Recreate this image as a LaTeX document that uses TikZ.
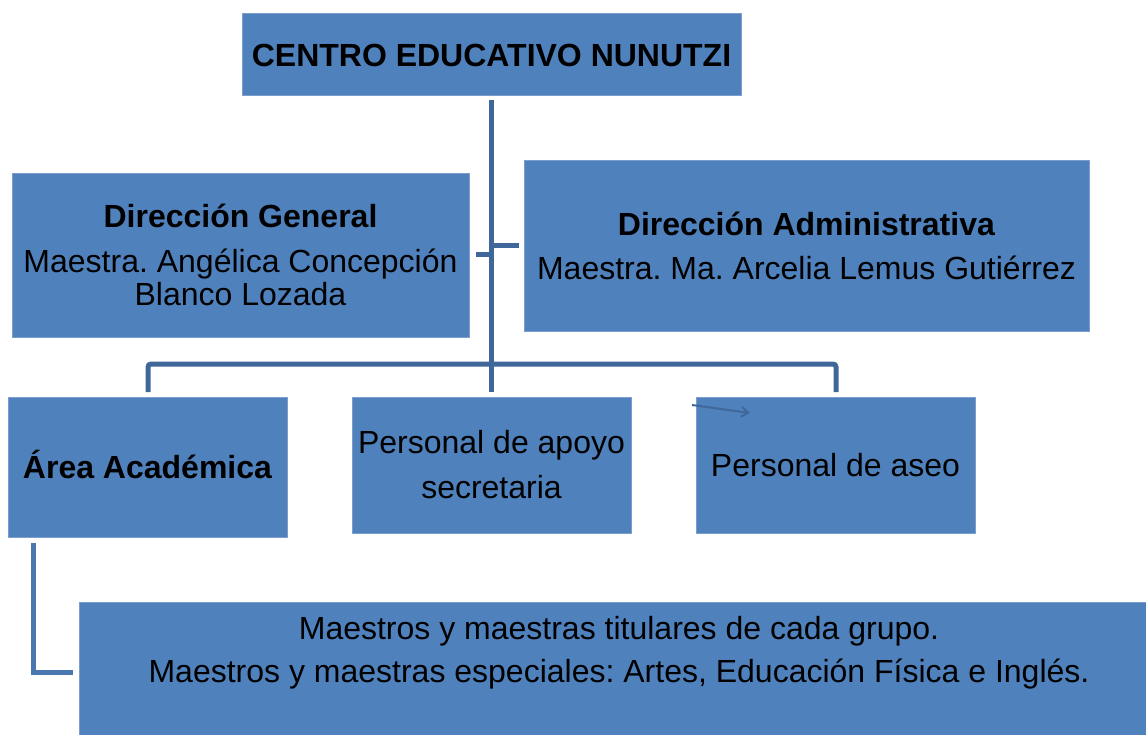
\documentclass[tikz,border=0pt]{standalone}
\usepackage{fontspec}
\setmainfont{Liberation Sans}
\usetikzlibrary{arrows.meta}
\definecolor{boxfill}{HTML}{4F81BD}
\definecolor{boxedge}{HTML}{7C9DCE}
\definecolor{linec}{HTML}{40679A}
\definecolor{linel}{HTML}{4A77B0}
\frenchspacing
\begin{document}
\begin{tikzpicture}[x=1pt,y=-1pt,
  box/.style={draw=boxedge, line width=0.8pt, fill=boxfill, inner sep=0pt, align=center},
  conn/.style={draw=linec, line width=5pt},
  connl/.style={draw=linel, line width=5pt},
  txt/.style={align=center, inner sep=0pt}]
\useasboundingbox (0,0) rectangle (1146,735);
% boxes
\node[box, minimum width=499, minimum height=82] (top) at (491.5,54) {};
\node[txt, font=\fontsize{32}{36}\selectfont\bfseries] (toptxt) at (491.5,55.5) {CENTRO EDUCATIVO NUNUTZI};
\node[box, minimum width=457, minimum height=164, font=\fontsize{32}{33}\selectfont] (dg) at (240.5,255)
  {\textbf{Dirección General}\\[12pt]Maestra. Angélica Concepción\\Blanco Lozada};
\node[box, minimum width=565, minimum height=171, font=\fontsize{32}{44}\selectfont] (da) at (806.5,245.5)
  {\textbf{Dirección Administrativa}\\Maestra. Ma. Arcelia Lemus Gutiérrez};
\node[box, minimum width=279, minimum height=140] (acad) at (147.5,467) {};
\node[txt, font=\fontsize{32}{36}\selectfont\bfseries] (acadtxt) at (147.5,464.5) {Área Académica};
\node[box, minimum width=279, minimum height=136, font=\fontsize{32}{45}\selectfont] (apoyo) at (491.5,465) {Personal de apoyo\\secretaria};
\node[box, minimum width=279, minimum height=136, font=\fontsize{32}{36}\selectfont] (aseo) at (835.5,465) {Personal de aseo};
\node[box, minimum width=1071, minimum height=138] (maestros) at (614.5,671) {};
\node[txt, font=\fontsize{32}{43}\selectfont] (maestrostxt) at (619,652.5)
  {Maestros y maestras titulares de cada grupo.\\Maestros y maestras especiales: Artes, Educación Física e Inglés.};
% connector points
\coordinate (trunkA) at (491.5,100);
\coordinate (trunkB) at (491.5,392);
\coordinate (barL) at (148,392);
\coordinate (barR) at (836,392);
\coordinate (tickL) at (476,255);
\coordinate (tickLm) at (491.5,255);
\coordinate (tickR) at (519,246);
\coordinate (tickRm) at (491.5,246);
\coordinate (acadA) at (33.5,543);
\coordinate (acadB) at (73,672);
\coordinate (arrA) at (692,405);
\coordinate (arrB) at (750,413);
% connectors
\draw[conn] (trunkA) -- (trunkB);
\draw[conn, rounded corners=3pt] (barL) -- ++(0,-28) -| (barR);
\draw[conn] (tickL) -- (tickLm);
\draw[conn] (tickRm) -- (tickR);
\draw[connl] (acadA) |- (acadB);
\draw[linec, line width=2pt, -{Straight Barb[length=7pt,width=10pt]}] (arrA) -- (arrB);
\end{tikzpicture}
\end{document}
